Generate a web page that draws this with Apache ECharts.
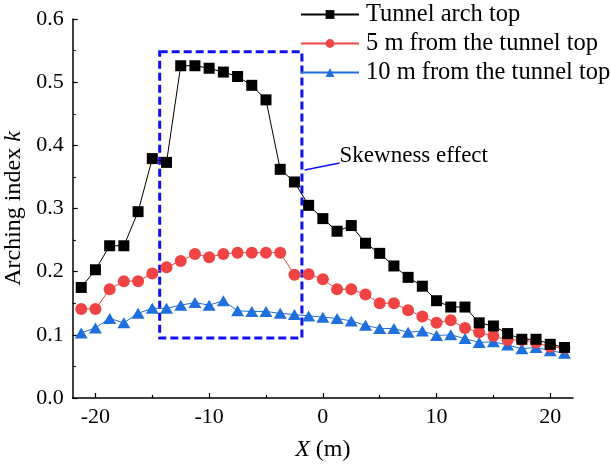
<!DOCTYPE html>
<html><head><meta charset="utf-8">
<script src="https://cdn.jsdelivr.net/npm/echarts@6/dist/echarts.min.js"></script>
<style>html,body{margin:0;padding:0;background:#fff}#c{width:611px;height:468px}</style>
</head><body><div id="c"></div>
<script>
const xValues = [-21.25,-20,-18.75,-17.5,-16.25,-15,-13.75,-12.5,-11.25,-10,-8.75,-7.5,-6.25,-5,-3.75,-2.5,-1.25,0,1.25,2.5,3.75,5,6.25,7.5,8.75,10,11.25,12.5,13.75,15,16.25,17.5,18.75,20,21.25];
const archTop = [0.175,0.203,0.241,0.241,0.295,0.379,0.373,0.526,0.526,0.522,0.516,0.509,0.495,0.472,0.362,0.342,0.305,0.284,0.264,0.273,0.245,0.229,0.209,0.191,0.177,0.154,0.144,0.144,0.119,0.114,0.102,0.093,0.093,0.085,0.080];
const fiveM = [0.141,0.141,0.172,0.185,0.185,0.197,0.207,0.217,0.228,0.223,0.228,0.230,0.230,0.230,0.230,0.195,0.196,0.188,0.172,0.172,0.164,0.150,0.150,0.139,0.129,0.119,0.123,0.111,0.104,0.098,0.092,0.092,0.088,0.081,0.079];
const tenM = [0.103,0.111,0.126,0.119,0.134,0.142,0.142,0.147,0.151,0.147,0.154,0.138,0.137,0.137,0.134,0.132,0.130,0.128,0.126,0.122,0.115,0.110,0.110,0.104,0.106,0.099,0.100,0.094,0.088,0.089,0.084,0.078,0.080,0.075,0.071];
const seriesNames = ['Tunnel arch top','5 m from the tunnel top','10 m from the tunnel top'];
const xMajorTicks = [-20,-10,0,10,20];
const xMinorTicks = [-15,-5,5,15];
const boxX = [-14.35,-1.84];
const boxY = [0.095,0.548];
const noteLine = [[-1.6,0.361],[1.47,0.372]];
const noteText = 'Skewness effect';

const FONT = '"Liberation Serif","Times New Roman",serif';
const pair = arr => xValues.map((x,i)=>[x,arr[i]]);
const chart = echarts.init(document.getElementById('c'));
chart.setOption({
  animation:false,
  textStyle:{fontFamily:FONT,color:'#000'},
  grid:{left:72.7,right:38,top:19,bottom:70,outerBoundsMode:'none',containLabel:false},
  legend:{orient:'vertical',left:300,top:2,padding:0,itemWidth:58,itemHeight:11,itemGap:4,
    textStyle:{fontFamily:FONT,fontSize:24.5,color:'#000',padding:[0,0,0,2]}},
  xAxis:[{type:'value',min:-22,max:22,
    name:'{i|X} (m)',nameLocation:'middle',nameGap:40,
    nameTextStyle:{fontFamily:FONT,fontSize:24,color:'#000',rich:{i:{fontFamily:FONT,fontSize:24,fontStyle:'italic'}}},
    axisLine:{onZero:false,lineStyle:{color:'#000',width:1.5}},
    axisTick:{inside:true,length:5,customValues:xMajorTicks,lineStyle:{color:'#000',width:1.2}},
    axisLabel:{customValues:xMajorTicks,margin:8,fontFamily:FONT,fontSize:22,color:'#000'},
    splitLine:{show:false}},
   {type:'value',min:-22,max:22,position:'bottom',gridIndex:0,
    axisLine:{show:false,onZero:false},
    axisTick:{inside:true,length:3,customValues:xMinorTicks,lineStyle:{color:'#000',width:1.2}},
    axisLabel:{show:false},splitLine:{show:false}}],
  yAxis:{type:'value',min:0,max:0.6,interval:0.1,
    name:'Arching index {i|k}',nameLocation:'middle',nameGap:45,
    nameTextStyle:{fontFamily:FONT,fontSize:24,color:'#000',rich:{i:{fontFamily:FONT,fontSize:24,fontStyle:'italic'}}},
    axisLine:{show:true,onZero:false,lineStyle:{color:'#000',width:1.5}},
    axisTick:{inside:true,length:5,lineStyle:{color:'#000',width:1.2}},
    minorTick:{show:true,splitNumber:2,length:3,lineStyle:{color:'#000',width:1.2}},
    axisLabel:{margin:9,fontFamily:FONT,fontSize:22,color:'#000',formatter:v=>v.toFixed(1)},
    splitLine:{show:false},minorSplitLine:{show:false}},
  series:[
    {name:seriesNames[0],type:'line',data:pair(archTop),symbol:'rect',symbolSize:11,
     color:'#000',lineStyle:{width:1,color:'#000'},itemStyle:{color:'#000'},z:5,
     markArea:{silent:true,itemStyle:{color:'rgba(0,0,0,0)',borderColor:'#1010f0',borderWidth:3,borderType:[8,4]},
       data:[[{coord:[boxX[0],boxY[1]]},{coord:[boxX[1],boxY[0]]}]]},
     markLine:{silent:true,symbol:'none',label:{show:false},lineStyle:{color:'#1010f0',width:1.5,type:'solid'},
       data:[[{coord:noteLine[0]},{coord:noteLine[1]}]]},
     markPoint:{silent:true,symbol:'circle',symbolSize:0,
       label:{show:true,position:'right',distance:0,formatter:noteText,fontFamily:FONT,fontSize:23,color:'#000',offset:[0,-7]},
       data:[{coord:noteLine[1]}]}},
    {name:seriesNames[1],type:'line',data:pair(fiveM),symbol:'circle',symbolSize:12,
     color:'#f04444',lineStyle:{width:1,color:'#f04444'},itemStyle:{color:'#f04444'},z:4},
    {name:seriesNames[2],type:'line',data:pair(tenM),symbol:'triangle',symbolSize:[13,11],
     color:'#1f6fdc',lineStyle:{width:1,color:'#1f6fdc'},itemStyle:{color:'#1f6fdc'},z:3}
  ]
});
</script></body></html>
